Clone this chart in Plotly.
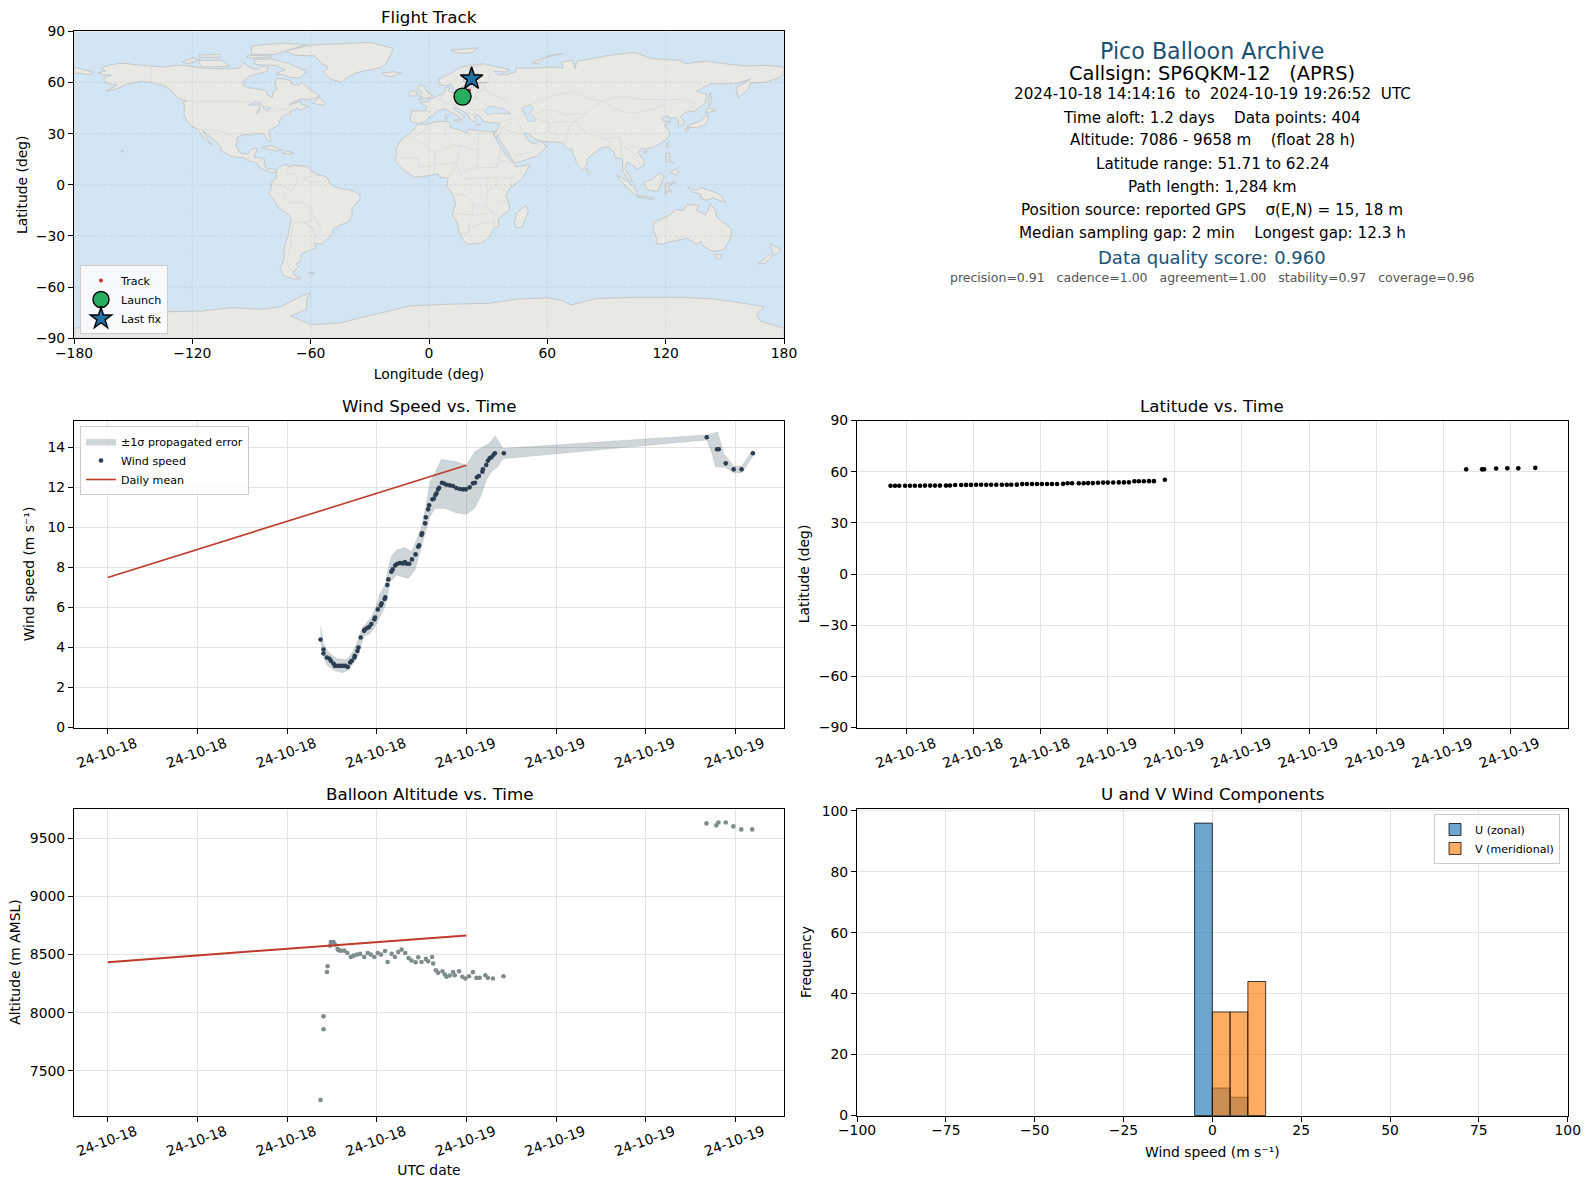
import pandas as pd
import plotly.graph_objects as go
from plotly.subplots import make_subplots

W, H = 1589, 1189
FONT = "DejaVu Sans"
BASE = pd.Timestamp("2024-10-18 00:00:00")

######## Data: times are hours after 2024-10-18 00:00 UTC ########

wind_hours = [14.24, 14.44, 14.44, 14.67, 14.84, 14.93, 15.11, 15.20, 15.38, 15.56, 15.73, 15.91, 16.07, 16.22,
              16.33, 16.51, 16.53, 16.71, 16.78, 16.93, 17.16, 17.20, 17.38, 17.51, 17.64, 17.84, 17.89, 18.07,
              18.27, 18.33, 18.53, 18.58, 18.71, 18.78, 18.98, 19.07, 19.24, 19.38, 19.56, 19.73, 19.89, 20.00,
              20.18, 20.36, 20.60, 20.78, 20.84, 21.00, 21.04, 21.24, 21.29, 21.44, 21.51, 21.73, 21.82, 21.93,
              22.00, 22.11, 22.18, 22.36, 22.49, 22.67, 22.89, 23.11, 23.33, 23.56, 23.78, 23.96, 24.22, 24.44,
              24.58, 24.71, 24.84, 25.07, 25.11, 25.33, 25.44, 25.56, 25.67, 25.82, 25.91, 26.51,
              40.09, 40.78, 40.89, 41.36, 41.89, 42.42, 43.18]
wind_speed = [4.40, 3.90, 3.70, 3.50, 3.43, 3.33, 3.20, 3.08, 3.08, 3.08, 3.08, 3.08, 3.02, 3.25,
              3.33, 3.50, 3.58, 3.82, 4.00, 4.50, 4.83, 4.90, 4.98, 5.03, 5.17, 5.40, 5.50, 5.90,
              6.10, 6.20, 6.42, 6.50, 7.12, 7.40, 7.78, 7.90, 8.10, 8.18, 8.22, 8.20, 8.27, 8.18,
              8.18, 8.40, 8.65, 9.03, 9.10, 9.62, 9.70, 10.20, 10.50, 10.90, 11.10, 11.40, 11.43, 11.62,
              11.70, 11.90, 11.98, 12.23, 12.20, 12.13, 12.10, 12.07, 11.97, 11.92, 11.90, 11.90, 12.00, 12.20,
              12.23, 12.50, 12.57, 12.78, 12.90, 13.12, 13.33, 13.45, 13.50, 13.63, 13.70, 13.70,
              14.50, 13.90, 13.90, 13.20, 12.90, 12.90, 13.70]

err_hi_hours = [14.24, 14.44, 14.67, 15.00, 15.33, 16.00, 16.33, 16.67, 17.00, 17.56, 17.89, 18.22, 18.56, 18.82,
                19.00, 19.33, 19.89, 20.33, 20.67, 21.00, 21.33, 21.56, 21.89, 22.33, 22.89, 23.33, 24.00, 24.56,
                25.11, 25.56, 25.93, 26.44, 26.51, 40.09, 40.82, 41.22, 41.89, 42.44, 43.18]
err_hi = [5.08, 4.20, 3.87, 3.62, 3.43, 3.40, 3.70, 4.20, 4.95, 5.45, 5.87, 6.70, 7.12, 8.12,
          8.57, 8.87, 9.00, 8.78, 9.37, 10.03, 11.20, 12.28, 12.70, 13.40, 13.33, 13.28, 13.10, 13.78,
          14.03, 14.20, 14.58, 13.95, 13.95, 14.62, 14.77, 13.70, 13.07, 13.07, 13.87]
err_lo_hours = [14.24, 14.44, 14.67, 15.11, 15.67, 16.11, 16.44, 16.78, 17.11, 17.56, 17.89, 18.22, 18.56, 18.89,
                19.33, 20.11, 20.56, 20.89, 21.22, 21.56, 21.89, 22.56, 23.33, 24.00, 24.56, 25.00, 25.33, 25.67,
                26.11, 26.44, 40.09, 40.44, 40.67, 41.33, 41.89, 42.44, 43.18]
err_lo = [4.33, 3.50, 3.12, 2.87, 2.73, 2.87, 3.20, 3.62, 4.53, 4.70, 5.03, 5.53, 6.03, 7.28,
          7.62, 7.45, 7.87, 8.70, 9.62, 10.53, 10.95, 10.95, 10.73, 10.65, 10.95, 11.62, 12.37, 12.78,
          13.03, 13.43, 14.37, 13.70, 13.03, 13.00, 12.73, 12.73, 13.57]

mean_hours = [0, 24]
wind_daily_mean = [7.5, 13.1]
alt_daily_mean = [8435, 8665]

lat_hours = [14.28, 14.48, 14.67, 14.93, 15.15, 15.37, 15.60, 15.82, 16.05, 16.27, 16.49, 16.76, 16.94, 17.17,
             17.44, 17.66, 17.88, 18.11, 18.33, 18.56, 18.78, 19.01, 19.26, 19.48, 19.68, 19.93, 20.17, 20.38,
             20.61, 20.83, 21.05, 21.28, 21.50, 21.73, 22.00, 22.20, 22.40, 22.70, 22.92, 23.12, 23.33, 23.56,
             23.79, 24.00, 24.24, 24.49, 24.72, 24.94, 25.19, 25.39, 25.61, 25.84, 26.06, 26.55,
             40.03, 40.74, 40.83, 41.37, 41.87, 42.36, 43.12]
latitude = [51.71, 51.75, 51.75, 51.75, 51.78, 51.78, 51.78, 51.82, 51.82, 51.82, 51.82, 51.82, 51.90, 52.20,
            52.20, 52.25, 52.25, 52.30, 52.30, 52.30, 52.30, 52.30, 52.35, 52.35, 52.35, 52.40, 52.70, 52.75,
            52.75, 52.75, 52.80, 52.80, 52.80, 52.80, 52.85, 53.20, 53.25, 53.25, 53.25, 53.30, 53.30, 53.50,
            53.60, 53.60, 53.65, 53.70, 53.70, 53.75, 54.35, 54.40, 54.40, 54.45, 54.45, 55.30,
            61.37, 61.37, 61.40, 61.90, 61.95, 61.95, 62.24]

alt_hours = [14.24, 14.44, 14.44, 14.67, 14.71, 14.89, 14.93, 15.11, 15.20, 15.38, 15.44, 15.60, 15.84, 16.04,
             16.27, 16.44, 16.67, 16.89, 17.16, 17.40, 17.60, 17.84, 18.07, 18.29, 18.56, 18.73, 19.00, 19.22,
             19.44, 19.67, 19.91, 20.13, 20.33, 20.60, 20.78, 21.00, 21.29, 21.44, 21.71, 21.78, 21.96, 22.11,
             22.40, 22.56, 22.67, 22.89, 23.11, 23.22, 23.51, 23.73, 23.93, 24.18, 24.44, 24.67, 24.89, 25.27,
             25.44, 25.78, 26.49, 40.07, 40.73, 40.87, 41.36, 41.87, 42.40, 43.13]
altitude = [7250, 7969, 7858, 8351, 8400, 8577, 8609, 8609, 8586, 8551, 8537, 8534, 8534, 8514,
            8480, 8491, 8500, 8506, 8480, 8514, 8500, 8480, 8514, 8500, 8531, 8437, 8506, 8480,
            8523, 8543, 8514, 8471, 8449, 8434, 8477, 8437, 8463, 8443, 8480, 8423, 8366, 8343,
            8357, 8329, 8309, 8320, 8351, 8323, 8357, 8309, 8294, 8314, 8349, 8300, 8300, 8323,
            8300, 8294, 8314, 9629, 9612, 9637, 9637, 9603, 9577, 9577]

hist_bin_left = [-5, 0, 5, 10]
hist_u = [96, 9, 6, 0]
hist_v = [0, 34, 34, 44]

track_lon = [17.0, 17.6, 18.3, 18.9, 19.6, 20.2, 20.9, 21.6]
track_lat = [51.7, 52.3, 53.0, 53.6, 54.4, 55.3, 61.2, 62.2]
launch_lon, launch_lat = [17.0], [51.7]
last_lon, last_lat = [21.6], [62.2]

wind_tick_hours = [0, 6, 12, 18, 24, 30, 36, 42]
wind_tick_text = ["24-10-18"] * 4 + ["24-10-19"] * 4
lat_tick_hours = [15, 18, 21, 24, 27, 30, 33, 36, 39, 42]
lat_tick_text = ["24-10-18"] * 3 + ["24-10-19"] * 7

info_lines = [
    ("Pico Balloon Archive", 22.2, "#1a5276", 50.7),
    ("Callsign: SP6QKM-12\u00a0\u00a0\u00a0(APRS)", 19.4, "black", 73),
    ("2024-10-18 14:14:16\u00a0\u00a0to\u00a0\u00a02024-10-19 19:26:52\u00a0\u00a0UTC", 15.2, "black", 94.4),
    ("Time aloft: 1.2 days\u00a0\u00a0\u00a0\u00a0Data points: 404", 15.2, "black", 117.7),
    ("Altitude: 7086 - 9658 m\u00a0\u00a0\u00a0\u00a0(float 28 h)", 15.2, "black", 140.5),
    ("Latitude range: 51.71 to 62.24", 15.2, "black", 163.8),
    ("Path length: 1,284 km", 15.2, "black", 187),
    ("Position source: reported GPS\u00a0\u00a0\u00a0\u00a0\u03c3(E,N) = 15, 18 m", 15.2, "black", 210),
    ("Median sampling gap: 2 min\u00a0\u00a0\u00a0\u00a0Longest gap: 12.3 h", 15.2, "black", 233.4),
    ("Data quality score: 0.960", 18, "#1a5276", 257.7),
    ("precision=0.91\u00a0\u00a0\u00a0cadence=1.00\u00a0\u00a0\u00a0agreement=1.00\u00a0\u00a0\u00a0stability=0.97\u00a0\u00a0\u00a0coverage=0.96",
     12.5, "#555555", 278),
]

######## Coastlines (lon, lat) ########

north_america = [(-168, 65.7), (-164, 66.6), (-166.5, 68.3), (-162, 70.2), (-156.5, 71.3), (-150, 70.5), (-141, 69.7),
                 (-135, 69), (-128, 70), (-124, 70), (-115, 68.5), (-108, 68), (-100, 68), (-96, 68.5), (-94, 71.5),
                 (-91, 69), (-87, 67.5), (-85, 69.5), (-81.5, 69), (-82, 66.5), (-87, 65), (-91, 63.7), (-94, 61),
                 (-94.5, 58.7), (-92.5, 57), (-88, 56.5), (-82.5, 55), (-82, 52.8), (-79.5, 51.2), (-79, 54.5),
                 (-77, 56), (-78, 58.7), (-77.5, 62.3), (-73, 62), (-70, 61), (-69.5, 58.8), (-66, 58.5), (-64.5, 60.3),
                 (-61, 56.5), (-57, 53.5), (-55.8, 52), (-60, 50), (-65, 50.2), (-68, 49), (-71, 46.8), (-65, 49),
                 (-64.5, 47), (-61, 46), (-63.5, 44.7), (-66, 43.7), (-66.5, 45), (-69, 44), (-70.5, 43), (-70, 41.7),
                 (-74, 40.6), (-75.5, 38), (-76, 36.9), (-75.7, 35.2), (-78, 33.9), (-81, 32), (-81.4, 30), (-80, 26.8),
                 (-80.4, 25.2), (-81.8, 26), (-82.8, 28), (-84, 30), (-85.5, 29.7), (-89, 30.3), (-89.5, 29.2),
                 (-91.5, 29.5), (-94, 29.5), (-97, 28), (-97.5, 25), (-97.8, 22.5), (-95.8, 18.8), (-94.5, 18.2),
                 (-91.5, 18.5), (-90.5, 20.8), (-87, 21.5), (-87.8, 18.3), (-88.7, 16), (-86, 15.9), (-83.3, 15),
                 (-83.6, 11.5), (-82, 9), (-79.5, 9.5), (-77.3, 8.6), (-78, 7.3), (-80.3, 7.3), (-83, 8.3), (-85.7, 10),
                 (-87.5, 13), (-91.5, 14), (-94.5, 16.2), (-97, 15.9), (-101.5, 17.5), (-105.5, 20), (-105.5, 22.5),
                 (-109, 26), (-112.5, 30), (-114.7, 31.5), (-112.7, 28), (-110, 23), (-112.2, 25), (-115, 28.5),
                 (-117.2, 32.6), (-120.6, 34.5), (-122.5, 37.5), (-124.2, 40.3), (-124, 46), (-124.7, 48.4),
                 (-122.7, 49), (-127.5, 51), (-130.3, 54.5), (-133.5, 57.5), (-139.5, 59.7), (-146, 60.8), (-151, 59.5),
                 (-153, 59), (-158, 56.5), (-164, 54.7), (-158, 58.5), (-162, 59), (-165, 61), (-164.5, 63), (-161, 64.3),
                 (-165, 64.5), (-168, 65.7)]
baffin = [(-80, 73.7), (-72, 71.5), (-67, 69), (-62, 66.7), (-65, 63), (-70, 62.8), (-74, 64.5), (-78, 65), (-73, 67.5),
          (-78, 70), (-88, 70.5), (-89, 73.5), (-80, 73.7)]
victoria = [(-117, 73), (-105, 73), (-101, 69.5), (-115, 69), (-117, 73)]
banks = [(-125, 72), (-120, 74.3), (-116, 73.5), (-122, 71), (-125, 72)]
ellesmere = [(-90, 76.5), (-78, 76.5), (-62, 82.3), (-75, 83), (-90, 81.5), (-90, 76.5)]
devon = [(-92, 76), (-80, 75.5), (-80, 74.5), (-92, 74.5), (-92, 76)]
melville = [(-117, 76), (-106, 76.5), (-106, 74.8), (-116, 74.8), (-117, 76)]
newfoundland = [(-59, 47.7), (-53, 46.7), (-52.8, 48), (-55.7, 51.5), (-59, 47.7)]
greenland = [(-73, 78.3), (-68, 76), (-58, 75.5), (-54, 71), (-51, 69), (-53.5, 66), (-50, 62), (-44, 60), (-42, 62.5),
             (-37, 65.7), (-25, 68.5), (-22, 70.5), (-20, 75), (-18, 80), (-30, 83.5), (-60, 82), (-73, 78.3)]
cuba = [(-84.9, 21.9), (-80, 23), (-74.2, 20.2), (-77.7, 19.9), (-84.9, 21.9)]
hispaniola = [(-74.4, 18.5), (-72, 19.9), (-68.5, 18.6), (-71, 18), (-74.4, 18.5)]
hawaii = [(-156, 19.2), (-154.9, 19.7), (-155.7, 20.3), (-156, 19.2)]
south_america = [(-77.3, 8.6), (-75, 11), (-72, 12), (-71.5, 10.5), (-68, 11.5), (-62, 10.7), (-60, 8.5), (-57, 6),
                 (-52, 4.8), (-50, 0.5), (-48, -1), (-44, -2.5), (-40, -3), (-35.3, -5.3), (-34.8, -8), (-37.5, -11.5),
                 (-39, -14), (-39, -18), (-41, -22), (-45, -23.5), (-48.5, -26), (-49, -29), (-52, -32.5), (-54, -34.5),
                 (-58, -34.5), (-57, -37), (-62, -39), (-65, -41), (-65, -45), (-67.5, -46.5), (-66, -48), (-69, -51),
                 (-68.3, -53), (-65, -55), (-69, -55.3), (-74, -53), (-75.5, -49), (-73.5, -44), (-73.5, -37),
                 (-71.5, -30), (-70, -20), (-71.5, -17), (-76, -14), (-79, -8), (-81.3, -5), (-80, -2.5), (-80, 1),
                 (-77.5, 4), (-77.3, 8.6)]
falklands = [(-61, -51.8), (-58, -51.5), (-58.5, -52.3), (-61, -51.8)]
africa = [(-5.9, 35.8), (-2, 35.2), (3, 36.9), (10, 37.2), (11, 35), (10.2, 34), (15, 32.4), (19.5, 30.4), (20, 32.6),
          (25, 31.7), (31, 31.3), (34.2, 31.3), (32.5, 30), (35.5, 24), (37.2, 21), (38.5, 18), (43, 12.5), (44, 10.5),
          (51.2, 11.8), (47.5, 4), (41, -2), (39, -6), (40.5, -11), (40.7, -15), (35, -20), (35.5, -24), (32.8, -26),
          (31, -30), (27, -34), (20, -34.8), (18.3, -33.8), (15, -27), (14.5, -23), (11.8, -17), (13.5, -11), (12, -5.5),
          (9, -1), (9.7, 3.8), (5.5, 4.5), (4.5, 6.3), (-2, 5), (-7.5, 4.5), (-13, 8.7), (-15, 11), (-17.3, 14.7),
          (-16.2, 19), (-17, 21), (-13, 27.8), (-9.7, 30), (-6.5, 34), (-5.9, 35.8)]
madagascar = [(49.3, -12), (50.4, -15.5), (47.2, -25), (44, -25), (43.4, -21.5), (44.5, -16.3), (49.3, -12)]
eurasia = [(-9, 37), (-9.5, 38.8), (-8.8, 43.3), (-1.8, 43.4), (-1.2, 46), (-4.7, 48.4), (-1.5, 48.7), (1.5, 50.7), (4, 52),
           (7, 53.5), (8.5, 55), (8.3, 57), (10.5, 57.6), (10, 55), (11, 54), (14, 54), (19, 54.4), (21, 55.3), (21.5, 57.3),
           (24, 57.3), (23.5, 59.3), (30, 60), (23, 60), (21, 61), (22, 63), (25.3, 65), (22, 65.7), (17.5, 62), (17.3, 60.5),
           (19, 59.8), (16.5, 56.8), (14.3, 55.5), (12.8, 55.8), (11.2, 59), (8, 58), (5.2, 59), (5, 62), (12, 66), (15, 68.5),
           (21, 70.3), (28, 71), (31, 70), (41, 67.5), (38.5, 66), (33, 66.7), (35, 64.5), (40, 64.7), (44, 66.3), (44, 68.5),
           (54, 68.5), (60, 69), (68, 68.5), (67, 72), (73, 73), (74, 68), (75, 72.5), (81, 73.5), (90, 75.7), (104, 77.7),
           (113, 74), (127, 73), (130, 71), (140, 72.5), (150, 71), (160, 69.7), (171, 70), (180, 69), (180, 65), (177, 62.5),
           (170, 60), (163, 59.8), (162, 56), (156.7, 51), (155.7, 57), (163, 62), (155, 59.3), (143, 59.2), (135.5, 54.7),
           (141, 53), (140, 48), (135, 43.3), (130, 42.5), (127.5, 40), (129.5, 37), (129, 35), (126.3, 34.5), (126.5, 37.5),
           (125, 39.5), (121.5, 39), (121, 40.8), (117.8, 39), (119, 37.3), (122.5, 37), (119.3, 35), (122, 31), (121.5, 28),
           (118, 24.5), (114, 22.3), (110.3, 21), (108, 21.5), (106, 19), (109, 14), (109, 11.5), (105, 8.8), (105, 10),
           (100.5, 13.5), (99.3, 9.5), (103.5, 1.5), (101, 3), (98.3, 8), (98, 15), (94.3, 16), (94, 19), (91, 22.3), (87, 21.5),
           (80.3, 15.5), (80, 12), (77.5, 8), (74.8, 13), (72.8, 19), (72.5, 21), (70.5, 20.8), (68.5, 23.5), (66.7, 25),
           (61.5, 25), (57, 25.7), (54, 26.7), (50.5, 30), (48, 30), (50, 26.7), (51.5, 25), (54, 24), (56.3, 26), (59.8, 22.5),
           (55, 17), (45, 13), (43.2, 13), (39, 21), (35, 28), (35, 29.5), (34, 27.7), (32.6, 29.9), (32.5, 31), (34.2, 31.3),
           (36, 36), (30.5, 36.5), (27.3, 37), (26.5, 39.5), (26, 40), (24, 41), (23, 40), (24, 38), (22.5, 36.6), (20, 39.8),
           (19.5, 41.5), (13.5, 45.6), (12.3, 44.5), (16, 41.7), (18.4, 40), (16, 38), (15.7, 40), (11, 42.5), (8.8, 44.4),
           (4, 43.5), (3, 41.5), (0, 39.5), (-2, 36.8), (-5.5, 36), (-9, 37)]
chukotka = [(-180, 69), (-175, 67.5), (-170, 66), (-172, 64.5), (-178, 65.5), (-180, 65), (-180, 69)]
britain = [(-5.5, 50), (1.3, 51.2), (1.7, 52.7), (-1.5, 55), (-2, 57.6), (-5, 58.6), (-6, 56.5), (-3.2, 54), (-5, 52), (-3, 51.4),
           (-5.5, 50)]
ireland = [(-10, 52), (-6.2, 52.2), (-6, 54.5), (-8.5, 55.2), (-10, 54), (-10, 52)]
iceland = [(-24, 65.5), (-18, 66.3), (-14, 65.5), (-18.7, 63.4), (-22.5, 64), (-24, 65.5)]
svalbard = [(11, 79), (25, 80.3), (22, 77.5), (15, 77), (11, 79)]
novaya_zemlya = [(52, 71.5), (57, 74), (68, 77), (60, 75.5), (55, 71), (52, 71.5)]
sicily = [(12.5, 38), (15.6, 38.2), (15, 36.7), (12.5, 38)]
sardinia = [(8.3, 41), (9.7, 41), (9.5, 39), (8.4, 39), (8.3, 41)]
crete = [(23.6, 35.5), (26.3, 35.2), (24, 34.9), (23.6, 35.5)]
honshu = [(130.8, 33.9), (135.5, 33.5), (140, 35), (141.5, 38), (141.3, 41.3), (139.8, 39.5), (136.7, 37), (132.5, 35.4), (130.8, 33.9)]
kyushu = [(130, 33), (131.8, 33.5), (131, 31.2), (130, 32), (130, 33)]
hokkaido = [(140, 42), (141.7, 45.4), (145.3, 43.5), (141.5, 42.5), (140, 42)]
sakhalin = [(142, 46), (143.5, 49), (142.7, 54.3), (142, 52), (142, 46)]
taiwan = [(120.2, 23), (121.5, 25.2), (121, 22), (120.2, 23)]
hainan = [(108.7, 19.3), (110.5, 20), (110, 18.4), (108.7, 19.3)]
sri_lanka = [(80, 9.7), (81.8, 7.5), (80.5, 6), (79.8, 8), (80, 9.7)]
luzon = [(120.5, 18.5), (122.2, 18.3), (121.5, 15), (124, 12.8), (120.5, 14), (120, 16), (120.5, 18.5)]
mindanao = [(122, 7), (125.5, 9.7), (126.5, 7), (125, 5.8), (122, 7)]
sumatra = [(95.3, 5.6), (98, 4), (104, -1), (106, -5.8), (104, -5.7), (100.5, -1.5), (97, 2.5), (95.3, 5.6)]
java = [(105.3, -6.8), (108.5, -6.6), (114.5, -7.8), (114, -8.7), (106.5, -7.4), (105.3, -6.8)]
borneo = [(109, 1.5), (113, 3), (116.8, 7), (119, 5), (117.7, 1), (116, -4), (111, -3), (109, 0), (109, 1.5)]
sulawesi = [(119.5, -5.5), (120, 0.7), (125, 1.5), (121, -0.8), (123, -4.5), (120.5, -3), (120.5, -5.5), (119.5, -5.5)]
new_guinea = [(131, -0.8), (135, -3.3), (138, -1.7), (145, -4.3), (147.8, -6), (150.5, -10.5), (144, -7.7), (141, -9), (138, -8.2),
              (138, -5.5), (132.8, -4), (131, -0.8)]
australia = [(114, -22), (113.5, -26), (115.7, -32), (115, -34.3), (118, -35), (124, -33), (131, -31.5), (135.5, -34.8), (138, -33),
             (138.5, -35.5), (143, -38.7), (146.5, -39), (150, -37.5), (153, -31), (153.5, -26), (149.5, -22), (146, -19),
             (145.3, -15), (142.5, -11), (141.5, -15), (140, -17.5), (135.5, -15), (136.8, -12), (131, -11.5), (129, -15),
             (125, -14.5), (122, -18), (114, -22)]
tasmania = [(144.8, -40.8), (148.3, -40.9), (147.8, -43.2), (146, -43.5), (144.8, -40.8)]
nz_north = [(172.8, -34.5), (178.5, -37.7), (176.8, -40), (175, -41.5), (174, -39), (172.8, -34.5)]
nz_south = [(172.8, -40.6), (174, -41.7), (170.5, -46), (167, -46.3), (172.8, -40.6)]
antarctica = [(-180, -84), (-160, -83), (-150, -78), (-135, -74.5), (-115, -74), (-100, -72), (-85, -73), (-75, -71.5), (-68, -67),
              (-60, -63.3), (-62, -67), (-62, -73), (-70, -77), (-60, -82), (-45, -81), (-35, -78), (-20, -74), (-10, -71),
              (10, -70), (30, -69.5), (45, -67), (60, -66.3), (68, -68), (72, -70.5), (85, -66.7), (105, -66), (130, -66),
              (145, -67), (160, -69.5), (170, -71.5), (166, -76), (168, -80), (180, -84), (180, -90), (-180, -90), (-180, -84)]

land_masses = [north_america, baffin, victoria, banks, ellesmere, devon, melville, newfoundland, greenland, cuba, hispaniola,
               hawaii, south_america, falklands, africa, madagascar, eurasia, chukotka, britain, ireland, iceland, svalbard,
               novaya_zemlya, sicily, sardinia, crete, honshu, kyushu, hokkaido, sakhalin, taiwan, hainan, sri_lanka, luzon,
               mindanao, sumatra, java, borneo, sulawesi, new_guinea, australia, tasmania, nz_north, nz_south, antarctica]

black_sea = [(28, 43), (29.5, 41.2), (35, 42), (41.5, 41.5), (38, 44.5), (35, 45), (33, 46), (30.5, 46), (28, 43)]
caspian = [(47, 45), (51, 47), (53, 45), (51, 42), (54, 39), (53.5, 37), (50, 37.5), (49, 40.5), (47, 45)]
lake_superior = [(-92, 46.8), (-88, 48.7), (-85, 47.7), (-85, 46.6), (-88, 46.8), (-92, 46.8)]
lake_michigan = [(-87.8, 42), (-85.5, 45.8), (-86.5, 42), (-87.8, 42)]
lake_huron = [(-84, 46), (-80, 45), (-82, 43), (-83.5, 44), (-84, 46)]
inland_waters = [black_sea, caspian, lake_superior, lake_michigan, lake_huron]

borders = [[(-122.7, 49), (-95, 49), (-89, 48), (-83, 46), (-82.5, 42.5), (-76, 44), (-71, 45), (-67.5, 47), (-67, 44.8)],
           [(-141, 69.7), (-141, 60), (-135, 59), (-130, 55)],
           [(-117.2, 32.6), (-106.5, 31.7), (-101, 29.5), (-97.3, 26)],
           [(-92, 14.5), (-91, 17.5), (-89, 18)], [(-87.5, 13), (-83.5, 15)], [(-85.7, 11), (-83.6, 11)],
           [(-71.5, 12), (-72.5, 7), (-67.5, 6), (-67, 1.5), (-70, -4), (-74, -7.5), (-69.5, -11), (-65, -10),
            (-60, -13.5), (-58, -19.5), (-54.5, -25.5), (-57.5, -30), (-53, -33.5)],
           [(-60, 8.5), (-60, 5), (-64, 4), (-59, 1.3), (-52, 2.5)], [(-80, 0.8), (-75, 0), (-70, -4)],
           [(-71.5, -17), (-69, -22), (-70, -33), (-72, -46), (-69, -52)], [(-69, -22), (-63, -22), (-58, -19.5)],
           [(-58, -27), (-62, -22)], [(-63, -22), (-58, -27), (-58, -34)],
           [(-9, 42), (-7, 37.5)], [(-1.8, 43.4), (3, 42.5)], [(4, 50), (8, 49), (7, 44)], [(7, 53.5), (6, 50), (8, 47.5), (13, 47), (13.8, 54)],
           [(14, 51), (24, 50.5), (23.5, 54), (28, 56), (28, 60)], [(24, 50.5), (30, 46)], [(13, 47), (19, 46), (22, 44), (28, 44)],
           [(19.5, 41.5), (26, 41)], [(31, 70), (30, 62), (30, 60)], [(12, 60), (20, 69)], [(20, 69), (28, 70)],
           [(28, 56), (32, 53), (40, 49.5), (38, 47)], [(49, 46), (60, 51), (72, 55), (80, 51), (87.5, 49), (98, 52), (107, 50), (117, 50),
            (127, 50), (135, 48), (131, 43)], [(87.5, 49), (97, 43), (105, 42), (112, 44), (120, 47), (117, 50)],
           [(54, 42), (61, 44), (70, 41), (80, 42), (87.5, 49)], [(54, 39), (61, 36), (66, 37), (74, 37), (80, 42)],
           [(61, 36), (61, 31), (66, 29.5), (61.5, 25)], [(74, 37), (71, 34), (70, 28), (68.5, 23.5)], [(74, 37), (79, 31), (88, 27), (97, 28), (97, 23),
            (101, 21), (102, 22.5), (108, 21.5)], [(88, 27), (92, 25), (91, 22.3)], [(97, 23), (98, 15)], [(101, 21), (105, 17), (107, 12)],
           [(44, 39.5), (48, 30)], [(44, 39.5), (36, 36.5)], [(39, 32), (48, 29)], [(36, 32), (42, 37)], [(43.2, 17), (52, 19), (55, 22), (56.3, 24)],
           [(25, 31.7), (25, 20), (24, 10), (34, 10), (36.5, 22)], [(-8.7, 27.5), (-2, 32), (-1, 35)], [(9, 37), (8, 30), (12, 23), (16, 23), (25, 20)],
           [(-13, 27.8), (-8.7, 27.5), (-5, 25), (3, 19), (12, 23)], [(-16.5, 16), (-5, 15.5), (-5, 10), (2.5, 11.5), (3, 19)], [(3, 12), (14, 13), (16, 23)],
           [(3, 12), (2.7, 6.3)], [(14, 13), (9.7, 4)], [(14, 13), (15.5, 7.5), (24, 10)], [(15.5, 7.5), (18, 3.5), (30, 4), (34, 4.5), (42, 4), (47, 8)], [(34, 10), (36.5, 14.5), (43, 12.5)],
           [(42, 4), (41, -2)], [(34, 4.5), (34, -1), (40, -4.5)], [(30, 4), (29.5, -4), (34, -1)], [(12.5, -5.5), (18, -6), (22, -11), (29, -13), (29.5, -4)],
           [(11.8, -17), (23, -18), (25, -17.8), (33, -16), (33, -22), (32.8, -26)], [(22, -11), (22, -18)], [(16.5, -28.5), (20, -28), (20, -22), (23, -18)],
           [(20, -25), (28, -22.5), (33, -22)], [(29, -13), (33, -16)], [(33, -9), (40.5, -11)], [(-60, 50), (-57, 51.5)]]

######## Helpers ########

def to_time(hours):
    return [str(BASE + pd.Timedelta(hours=h)) for h in hours]

def join_xy(shapes):
    xs, ys = [], []
    for shape in shapes:
        xs += [p[0] for p in shape] + [None]
        ys += [p[1] for p in shape] + [None]
    return xs, ys

def set_domain(fig, row, col, left, right, top, bottom):
    fig.update_xaxes(domain=[left / W, right / W], row=row, col=col)
    fig.update_yaxes(domain=[1 - bottom / H, 1 - top / H], row=row, col=col)

######## Grafico ########

fig = make_subplots(rows=3, cols=2, specs=[[{}, None], [{}, {}], [{}, {}]])

LEFT = (74, 784)
RIGHT = (857, 1567.7)
ROWS = [(31.3, 338.3), (420.5, 727.5), (808.5, 1115.5)]

set_domain(fig, 1, 1, *LEFT, *ROWS[0])
set_domain(fig, 2, 1, *LEFT, *ROWS[1])
set_domain(fig, 2, 2, *RIGHT, *ROWS[1])
set_domain(fig, 3, 1, *LEFT, *ROWS[2])
set_domain(fig, 3, 2, *RIGHT, *ROWS[2])

land_x, land_y = join_xy(land_masses)
water_x, water_y = join_xy(inland_waters)
border_x, border_y = join_xy(borders)

fig.add_trace(go.Scatter(x=land_x, y=land_y, mode='lines', fill='toself', fillcolor='#e8e8e4',
                         line=dict(color='#c3c8ca', width=1), hoverinfo='skip', showlegend=False), row=1, col=1)
fig.add_trace(go.Scatter(x=water_x, y=water_y, mode='lines', fill='toself', fillcolor='#d3e5f2',
                         line=dict(color='#c3c8ca', width=0.8), hoverinfo='skip', showlegend=False), row=1, col=1)
fig.add_trace(go.Scatter(x=border_x, y=border_y, mode='lines',
                         line=dict(color='#d9dad8', width=0.8), hoverinfo='skip', showlegend=False), row=1, col=1)
fig.add_trace(go.Scatter(x=track_lon, y=track_lat, mode='markers', name='Track', legend='legend',
                         marker=dict(color='#c0392b', size=4)), row=1, col=1)
fig.add_trace(go.Scatter(x=launch_lon, y=launch_lat, mode='markers', name='Launch', legend='legend',
                         marker=dict(color='#27ae60', size=17, line=dict(color='black', width=1.4))), row=1, col=1)
fig.add_trace(go.Scatter(x=last_lon, y=last_lat, mode='markers', name='Last fix', legend='legend',
                         marker=dict(color='#2471a3', symbol='star', size=17, line=dict(color='black', width=1.4))),
              row=1, col=1)

band_x = to_time(err_hi_hours) + to_time(err_lo_hours[::-1])
band_y = err_hi + err_lo[::-1]
fig.add_trace(go.Scatter(x=band_x, y=band_y, mode='lines', fill='toself', fillcolor='rgba(38,70,83,0.22)',
                         line=dict(color='rgba(38,70,83,0.22)', width=0.5), name='\u00b11\u03c3 propagated error',
                         legend='legend2'), row=2, col=1)
fig.add_trace(go.Scatter(x=to_time(wind_hours), y=wind_speed, mode='markers', name='Wind speed', legend='legend2',
                         marker=dict(color='#2c3e50', size=4.6)), row=2, col=1)
fig.add_trace(go.Scatter(x=to_time(mean_hours), y=wind_daily_mean, mode='lines', name='Daily mean', legend='legend2',
                         line=dict(color='#c0392b', width=1.6)), row=2, col=1)

fig.add_trace(go.Scatter(x=to_time(lat_hours), y=latitude, mode='markers', showlegend=False,
                         marker=dict(color='black', size=4.6)), row=2, col=2)

fig.add_trace(go.Scatter(x=to_time(alt_hours), y=altitude, mode='markers', showlegend=False,
                         marker=dict(color='#7f8c8d', size=4.6)), row=3, col=1)
fig.add_trace(go.Scatter(x=to_time(mean_hours), y=alt_daily_mean, mode='lines', showlegend=False,
                         line=dict(color='#c0392b', width=2)), row=3, col=1)

fig.add_trace(go.Bar(x=hist_bin_left, y=hist_u, width=5, offset=0, name='U (zonal)', legend='legend3',
                     marker=dict(color='rgba(31,119,180,0.65)', line=dict(color='rgba(0,0,0,0.75)', width=1))),
              row=3, col=2)
fig.add_trace(go.Bar(x=hist_bin_left, y=hist_v, width=5, offset=0, name='V (meridional)', legend='legend3',
                     marker=dict(color='rgba(255,127,14,0.65)', line=dict(color='rgba(0,0,0,0.75)', width=1))),
              row=3, col=2)

axis_style = dict(automargin=False, showline=True, linecolor='black', linewidth=1.1, mirror=True, ticks='outside', ticklen=5,
                  tickwidth=1.1, tickcolor='black', zeroline=False, showgrid=True, gridcolor='#e3e3e3', gridwidth=1,
                  tickfont=dict(family=FONT, size=13.9, color='black'))
fig.update_xaxes(**axis_style, ticklabelstandoff=-3)
fig.update_yaxes(**axis_style)

title_font = dict(family=FONT, size=13.9, color='black')

fig.update_xaxes(range=[-180, 180], tickmode='array', tickvals=[-180, -120, -60, 0, 60, 120, 180], showgrid=False,
                 title=dict(text='Longitude (deg)', font=title_font, standoff=9), row=1, col=1)
fig.update_yaxes(range=[-90, 90], tickmode='array', tickvals=[-90, -60, -30, 0, 30, 60, 90], showgrid=False,
                 title=dict(text='Latitude (deg)', font=title_font, standoff=4), row=1, col=1)

date_style = dict(tickmode='array', tickangle=-20, ticklabelshift=28)
wind_range = to_time([-2.26, 45.26])
fig.update_xaxes(range=wind_range, tickvals=to_time(wind_tick_hours), ticktext=wind_tick_text, **date_style, row=2, col=1)
fig.update_yaxes(range=[0, 15.34], tickmode='array', tickvals=[0, 2, 4, 6, 8, 10, 12, 14],
                 title=dict(text='Wind speed (m s\u207b\u00b9)', font=title_font, standoff=9), row=2, col=1)
fig.update_xaxes(range=to_time([12.78, 44.57]), tickvals=to_time(lat_tick_hours), ticktext=lat_tick_text, **date_style,
                 row=2, col=2)
fig.update_yaxes(range=[-90, 90], tickmode='array', tickvals=[-90, -60, -30, 0, 30, 60, 90],
                 title=dict(text='Latitude (deg)', font=title_font, standoff=5), row=2, col=2)
fig.update_xaxes(range=wind_range, tickvals=to_time(wind_tick_hours), ticktext=wind_tick_text, **date_style,
                 title=dict(text='UTC date', font=title_font, standoff=7), row=3, col=1)
fig.update_yaxes(range=[7116, 9757], tickmode='array', tickvals=[7500, 8000, 8500, 9000, 9500], tickformat='d',
                 title=dict(text='Altitude (m AMSL)', font=title_font, standoff=5), row=3, col=1)
fig.update_xaxes(range=[-100, 100], tickmode='array', tickvals=[-100, -75, -50, -25, 0, 25, 50, 75, 100],
                 title=dict(text='Wind speed (m s\u207b\u00b9)', font=title_font, standoff=10), row=3, col=2)
fig.update_yaxes(range=[0, 100.8], tickmode='array', tickvals=[0, 20, 40, 60, 80, 100],
                 title=dict(text='Frequency', font=title_font, standoff=6), row=3, col=2)

# ocean and dashed graticule of the map
fig.add_shape(type='rect', x0=-180, x1=180, y0=-90, y1=90, xref='x', yref='y', fillcolor='#d3e5f2', line_width=0, layer='below')
for lon in [-120, -60, 0, 60, 120]:
    fig.add_shape(type='line', x0=lon, x1=lon, y0=-90, y1=90, xref='x', yref='y', layer='above',
                  line=dict(color='rgba(120,120,120,0.2)', width=0.7, dash='3px,2px'))
for lat in [-60, -30, 0, 30, 60]:
    fig.add_shape(type='line', x0=-180, x1=180, y0=lat, y1=lat, xref='x', yref='y', layer='above',
                  line=dict(color='rgba(120,120,120,0.2)', width=0.7, dash='3px,2px'))

# subplot titles and the text panel
subplot_titles = [("Flight Track", LEFT, ROWS[0]), ("Wind Speed vs. Time", LEFT, ROWS[1]), ("Latitude vs. Time", RIGHT, ROWS[1]),
                  ("Balloon Altitude vs. Time", LEFT, ROWS[2]), ("U and V Wind Components", RIGHT, ROWS[2])]
for text, (left, right), (top, bottom) in subplot_titles:
    fig.add_annotation(text=text, x=(left + right) / 2 / W, y=1 - (top - 2.5) / H, xref='paper', yref='paper', showarrow=False,
                       xanchor='center', yanchor='bottom', font=dict(family=FONT, size=16.67, color='black'))
for text, size, color, ypos in info_lines:
    fig.add_annotation(text=text, x=(RIGHT[0] + RIGHT[1]) / 2 / W, y=1 - ypos / H, xref='paper', yref='paper', showarrow=False,
                       xanchor='center', yanchor='middle', font=dict(family=FONT, size=size, color=color))

legend_style = dict(bgcolor='rgba(255,255,255,0.8)', bordercolor='#cccccc', borderwidth=1,
                    font=dict(family=FONT, size=11.1, color='black'), itemwidth=30)
fig.update_layout(
    template='none', width=W, height=H, margin=dict(l=0, r=0, t=0, b=0), paper_bgcolor='white', plot_bgcolor='white',
    barmode='overlay', font=dict(family=FONT, color='black'), hovermode='closest',
    legend=dict(x=80 / W, y=1 - 334 / H, xanchor='left', yanchor='bottom', **legend_style),
    legend2=dict(x=80 / W, y=1 - 426 / H, xanchor='left', yanchor='top', **legend_style),
    legend3=dict(x=1560 / W, y=1 - 814 / H, xanchor='right', yanchor='top', **legend_style),
)

fig.write_html("out.html", post_script="document.body.style.margin='0'", config={'displayModeBar': False})
